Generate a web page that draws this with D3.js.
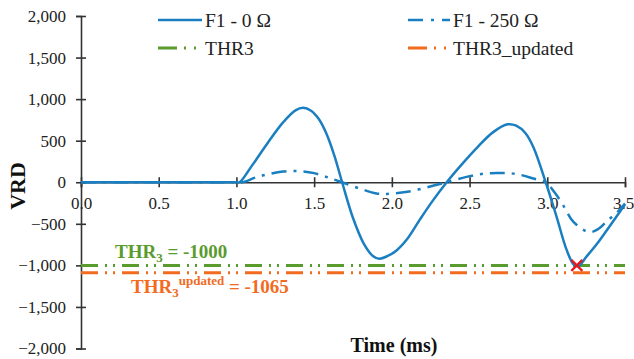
<!DOCTYPE html>
<html>
<head>
<meta charset="utf-8">
<script src="https://cdn.jsdelivr.net/npm/d3@7"></script>
<style>
  html, body { margin: 0; padding: 0; background: #fff; }
  svg { display: block; }
</style>
</head>
<body>
<svg id="chart" width="634" height="359"></svg>
<script>
// ---- Data ----
const timeF1_0 = [0, 1.0, 1.02, 1.1, 1.2, 1.3, 1.38, 1.43, 1.48, 1.53, 1.58, 1.63, 1.68, 1.75, 1.82, 1.88, 1.92, 1.97, 2.03, 2.1, 2.18, 2.26, 2.353, 2.45, 2.55, 2.65, 2.745, 2.8, 2.86, 2.91, 2.99, 3.06, 3.125, 3.17, 3.2, 3.25, 3.32, 3.383, 3.45, 3.5];
const vrdF1_0  = [0, 0, 0, 200, 470, 720, 865, 895, 860, 760, 580, 320, 0, -430, -740, -890, -920, -890, -820, -680, -450, -230, 0, 215, 420, 600, 697, 680, 590, 424, 0, -417, -817, -990, -1010, -900, -740, -577, -400, -265];

const timeF1_250 = [0, 1.0, 1.04, 1.12, 1.2, 1.3, 1.4, 1.5, 1.6, 1.68, 1.8, 1.9, 1.97, 2.1, 2.27, 2.353, 2.48, 2.6, 2.7, 2.8, 2.91, 2.99, 3.05, 3.1, 3.17, 3.27, 3.33, 3.383, 3.45, 3.5];
const vrdF1_250  = [0, 0, 0, 55, 95, 128, 135, 110, 50, 0, -80, -135, -140, -115, -40, 0, 65, 105, 112, 100, 45, 0, -130, -270, -480, -600, -560, -470, -360, -255];

const thr3Value = -1000;
const thr3UpdatedValue = -1090;
const detectionPoint = { t: 3.19, v: -1000 };

const xTicks = [0, 0.5, 1.0, 1.5, 2.0, 2.5, 3.0, 3.5];
const yTicks = [-2000, -1500, -1000, -500, 0, 500, 1000, 1500, 2000];

const seriesNames = ["F1 - 0 \u03A9", "F1 - 250 \u03A9", "THR3", "THR3_updated"];
const colors = { blue: "#1a7fc1", green: "#5a9b2e", orange: "#f26b1f", red: "#e8161d", axis: "#333" };
const SERIF = "Liberation Serif";

// ---- Layout ----
const svg = d3.select("#chart");
const x = d3.scaleLinear().domain([0, 3.5]).range([81, 625]);
const y = d3.scaleLinear().domain([-2000, 2000]).range([348.5, 16]);

// Y axis
const yAxis = svg.append("g")
  .attr("transform", `translate(${x(0)},0)`)
  .call(d3.axisLeft(y).tickValues(yTicks).tickSize(5).tickPadding(10)
    .tickFormat(d3.format(",")));
yAxis.attr("font-family", SERIF).attr("font-size", 17);
yAxis.select(".domain").attr("stroke", colors.axis).attr("stroke-width", 1.6);
yAxis.selectAll(".tick line").attr("x1", 5).attr("stroke", colors.axis).attr("stroke-width", 1.6);
yAxis.selectAll(".tick text").attr("font-family", SERIF).attr("font-size", 17).attr("fill", "#222");

// X axis at y = 0
const xAxis = svg.append("g")
  .attr("transform", `translate(0,${y(0)})`)
  .call(d3.axisBottom(x).tickValues(xTicks).tickSize(5).tickPadding(10)
    .tickFormat(d3.format(".1f")));
xAxis.attr("font-family", SERIF).attr("font-size", 17);
xAxis.select(".domain").attr("stroke", colors.axis).attr("stroke-width", 1.6);
xAxis.selectAll(".tick line").attr("y1", -5).attr("stroke", colors.axis).attr("stroke-width", 1.6);
xAxis.selectAll(".tick text").attr("font-family", SERIF).attr("font-size", 17).attr("fill", "#222")
  .attr("dx", d => d === 3.5 ? -2 : 0);

// Threshold lines
const thrDash = "17,7,2,6,2,7";
svg.append("line")
  .attr("x1", x(0)).attr("x2", x(3.5))
  .attr("y1", y(thr3Value)).attr("y2", y(thr3Value))
  .attr("stroke", colors.green).attr("stroke-width", 3).attr("stroke-dasharray", thrDash);
svg.append("line")
  .attr("x1", x(0)).attr("x2", x(3.5))
  .attr("y1", y(thr3UpdatedValue)).attr("y2", y(thr3UpdatedValue))
  .attr("stroke", colors.orange).attr("stroke-width", 3).attr("stroke-dasharray", thrDash);

// Curves
const line = d3.line().x(d => x(d[0])).y(d => y(d[1])).curve(d3.curveCatmullRom.alpha(0.5));
const data0 = timeF1_0.map((t, i) => [t, vrdF1_0[i]]);
const data250 = timeF1_250.map((t, i) => [t, vrdF1_250[i]]);

svg.append("path").datum(data250).attr("d", line)
  .attr("fill", "none").attr("stroke", colors.blue).attr("stroke-width", 2.5)
  .attr("stroke-dasharray", "15,7,3,7");
svg.append("path").datum(data0).attr("d", line)
  .attr("fill", "none").attr("stroke", colors.blue).attr("stroke-width", 2.5);

// Red X marker
const mx = x(detectionPoint.t), my = y(detectionPoint.v), s = 5.5;
svg.append("path")
  .attr("d", `M${mx - s},${my - s}L${mx + s},${my + s}M${mx - s},${my + s}L${mx + s},${my - s}`)
  .attr("stroke", colors.red).attr("stroke-width", 2.2).attr("fill", "none");

// Annotations
const ann1 = svg.append("text").attr("x", 115).attr("y", 258)
  .attr("font-family", SERIF).attr("font-size", 19).attr("font-weight", "bold").attr("fill", colors.green);
ann1.append("tspan").text("THR");
ann1.append("tspan").attr("dy", 4).attr("font-size", 13).text("3");
ann1.append("tspan").attr("dy", -4).text(" = -1000");

const ann2 = svg.append("text").attr("x", 131).attr("y", 293)
  .attr("font-family", SERIF).attr("font-size", 19).attr("font-weight", "bold").attr("fill", colors.orange);
ann2.append("tspan").text("THR");
ann2.append("tspan").attr("dy", 4).attr("font-size", 13).text("3");
ann2.append("tspan").attr("dy", -12).attr("font-size", 13).text("updated");
ann2.append("tspan").attr("dy", 8).text(" = -1065");

// Axis titles
svg.append("text").attr("x", 394).attr("y", 352).attr("text-anchor", "middle")
  .attr("font-family", SERIF).attr("font-size", 20).attr("font-weight", "bold").attr("fill", "#111").text("Time (ms)");
svg.append("text").attr("transform", "translate(25,186) rotate(-90)").attr("text-anchor", "middle")
  .attr("font-family", SERIF).attr("font-size", 22).attr("font-weight", "bold").attr("fill", "#111").text("VRD");

// Legend
const legendItems = [
  { name: seriesNames[0], color: colors.blue, dash: null, x1: 158, x2: 202, ty: 20, w: 2.5 },
  { name: seriesNames[1], color: colors.blue, dash: "15,8,3,8", x1: 408, x2: 450, ty: 20, w: 2.5 },
  { name: seriesNames[2], color: colors.green, dash: "19,7,2,8,2,8", x1: 158, x2: 202, ty: 48, w: 3 },
  { name: seriesNames[3], color: colors.orange, dash: "19,7,2,8,2,8", x1: 408, x2: 450, ty: 48, w: 3 }
];
const lg = svg.append("g");
legendItems.forEach(it => {
  lg.append("line").attr("x1", it.x1).attr("x2", it.x2).attr("y1", it.ty).attr("y2", it.ty)
    .attr("stroke", it.color).attr("stroke-width", it.w)
    .attr("stroke-dasharray", it.dash);
  lg.append("text").attr("x", it.x2 + 3).attr("y", it.ty + 6.5)
    .attr("font-family", SERIF).attr("font-size", 19.5).attr("fill", "#222").text(it.name);
});
</script>
</body>
</html>
